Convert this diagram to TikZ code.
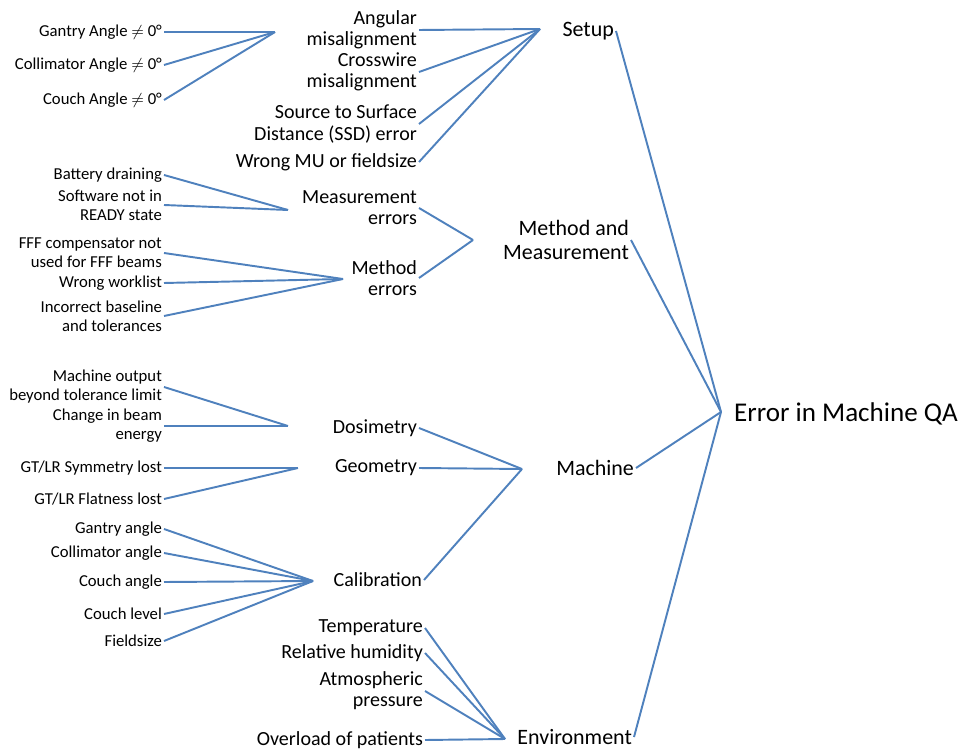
\documentclass[tikz,border=0pt]{standalone}
\usepackage{fontspec}
\setmainfont{Carlito}
\definecolor{linkblue}{RGB}{79,129,189}

\begin{document}
\begin{tikzpicture}[x=1cm, y=1cm,
	cause/.style={anchor=east, align=right, inner sep=1pt, font=\fontsize{9.5}{10.8}\selectfont},
	sub/.style={anchor=east, align=right, inner sep=1pt, font=\fontsize{11.4}{12}\selectfont},
	cat/.style={anchor=east, align=right, inner sep=1pt, font=\fontsize{12.5}{14}\selectfont},
	link/.style={draw=linkblue, line width=1.1pt}]
	\useasboundingbox (0,0) rectangle (19.38,-15.02);
	\node[cause] (g1) at (3.28,-0.64) {Gantry Angle $\neq$ 0°};
	\node[cause] (g2) at (3.28,-1.30) {Collimator Angle $\neq$ 0°};
	\node[cause] (g3) at (3.28,-2.00) {Couch Angle $\neq$ 0°};
	\node[cause] (bat) at (3.28,-3.50) {Battery draining};
	\node[cause] (sw) at (3.28,-4.10) {Software not in\\READY state};
	\node[cause] (fff) at (3.28,-5.06) {FFF compensator not\\used for FFF beams};
	\node[cause] (wl) at (3.28,-5.66) {Wrong worklist};
	\node[cause] (base) at (3.28,-6.32) {Incorrect baseline\\and tolerances};
	\node[cause] (mo) at (3.28,-7.74) {Machine output\\beyond tolerance limit};
	\node[cause] (be) at (3.28,-8.52) {Change in beam\\energy};
	\node[cause] (sym) at (3.28,-9.36) {GT/LR Symmetry lost};
	\node[cause] (flat) at (3.28,-9.98) {GT/LR Flatness lost};
	\node[cause] (ga) at (3.28,-10.58) {Gantry angle};
	\node[cause] (ca) at (3.28,-11.06) {Collimator angle};
	\node[cause] (cou) at (3.28,-11.64) {Couch angle};
	\node[cause] (lev) at (3.28,-12.28) {Couch level};
	\node[cause] (fs) at (3.28,-12.82) {Fieldsize};

	\coordinate (jAng) at (5.50,-0.64);
	\coordinate (jMeas) at (5.76,-4.20);
	\coordinate (jMeth) at (6.86,-5.58);
	\coordinate (jDos) at (5.76,-8.52);
	\coordinate (jGeo) at (5.96,-9.36);
	\coordinate (jCal) at (6.26,-11.62);

	\node[sub] (ang) at (8.38,-0.60) {Angular\\misalignment};
	\node[sub] (cross) at (8.38,-1.44) {Crosswire\\misalignment};
	\node[sub] (ssd) at (8.38,-2.48) {Source to Surface\\Distance (SSD) error};
	\node[sub] (mu) at (8.38,-3.24) {Wrong MU or fieldsize};
	\node[sub] (meas) at (8.38,-4.16) {Measurement\\errors};
	\node[sub] (meth) at (8.38,-5.56) {Method\\errors};
	\node[sub] (dos) at (8.38,-8.56) {Dosimetry};
	\node[sub] (geo) at (8.38,-9.36) {Geometry};
	\node[sub] (cal) at (8.48,-11.60) {Calibration};
	\node[sub] (temp) at (8.50,-12.56) {Temperature};
	\node[sub] (hum) at (8.50,-13.06) {Relative humidity};
	\node[sub] (atm) at (8.50,-13.82) {Atmospheric\\pressure};
	\node[sub] (over) at (8.50,-14.80) {Overload of patients};

	\coordinate (jSetup) at (10.80,-0.58);
	\coordinate (jMM) at (9.46,-4.80);
	\coordinate (jMach) at (10.44,-9.38);
	\coordinate (jEnv) at (10.10,-14.78);

	\node[cat] (setup) at (12.32,-0.62) {Setup};
	\node[cat] (mm) at (12.62,-4.80) {Method and\\Measurement};
	\node[cat] (mach) at (12.72,-9.36) {Machine};
	\node[cat] (env) at (12.68,-14.74) {Environment};

	\coordinate (jQA) at (14.42,-8.24);
	\node[anchor=west, inner sep=1pt, font=\fontsize{15.4}{18}\selectfont] (qa) at (14.64,-8.28) {Error in Machine QA};

	\draw[link] (g1.east) -- (jAng);
	\draw[link] (g2.east) -- (jAng);
	\draw[link] (g3.east) -- (jAng);
	\draw[link] (bat.east) -- (jMeas);
	\draw[link] (sw.east) -- (jMeas);
	\draw[link] (fff.east) -- (jMeth);
	\draw[link] (wl.east) -- (jMeth);
	\draw[link] (base.east) -- (jMeth);
	\draw[link] (mo.east) -- (jDos);
	\draw[link] (be.east) -- (jDos);
	\draw[link] (sym.east) -- (jGeo);
	\draw[link] (flat.east) -- (jGeo);
	\draw[link] (ga.east) -- (jCal);
	\draw[link] (ca.east) -- (jCal);
	\draw[link] (cou.east) -- (jCal);
	\draw[link] (lev.east) -- (jCal);
	\draw[link] (fs.east) -- (jCal);

	\draw[link] (ang.east) -- (jSetup);
	\draw[link] (cross.east) -- (jSetup);
	\draw[link] (ssd.east) -- (jSetup);
	\draw[link] (mu.east) -- (jSetup);
	\draw[link] (meas.east) -- (jMM);
	\draw[link] (meth.east) -- (jMM);
	\draw[link] (dos.east) -- (jMach);
	\draw[link] (geo.east) -- (jMach);
	\draw[link] (cal.east) -- (jMach);
	\draw[link] (temp.east) -- (jEnv);
	\draw[link] (hum.east) -- (jEnv);
	\draw[link] (atm.east) -- (jEnv);
	\draw[link] (over.east) -- (jEnv);

	\draw[link] (setup.east) -- (jQA);
	\draw[link] (mm.east) -- (jQA);
	\draw[link] (mach.east) -- (jQA);
	\draw[link] (env.east) -- (jQA);
\end{tikzpicture}
\end{document}
